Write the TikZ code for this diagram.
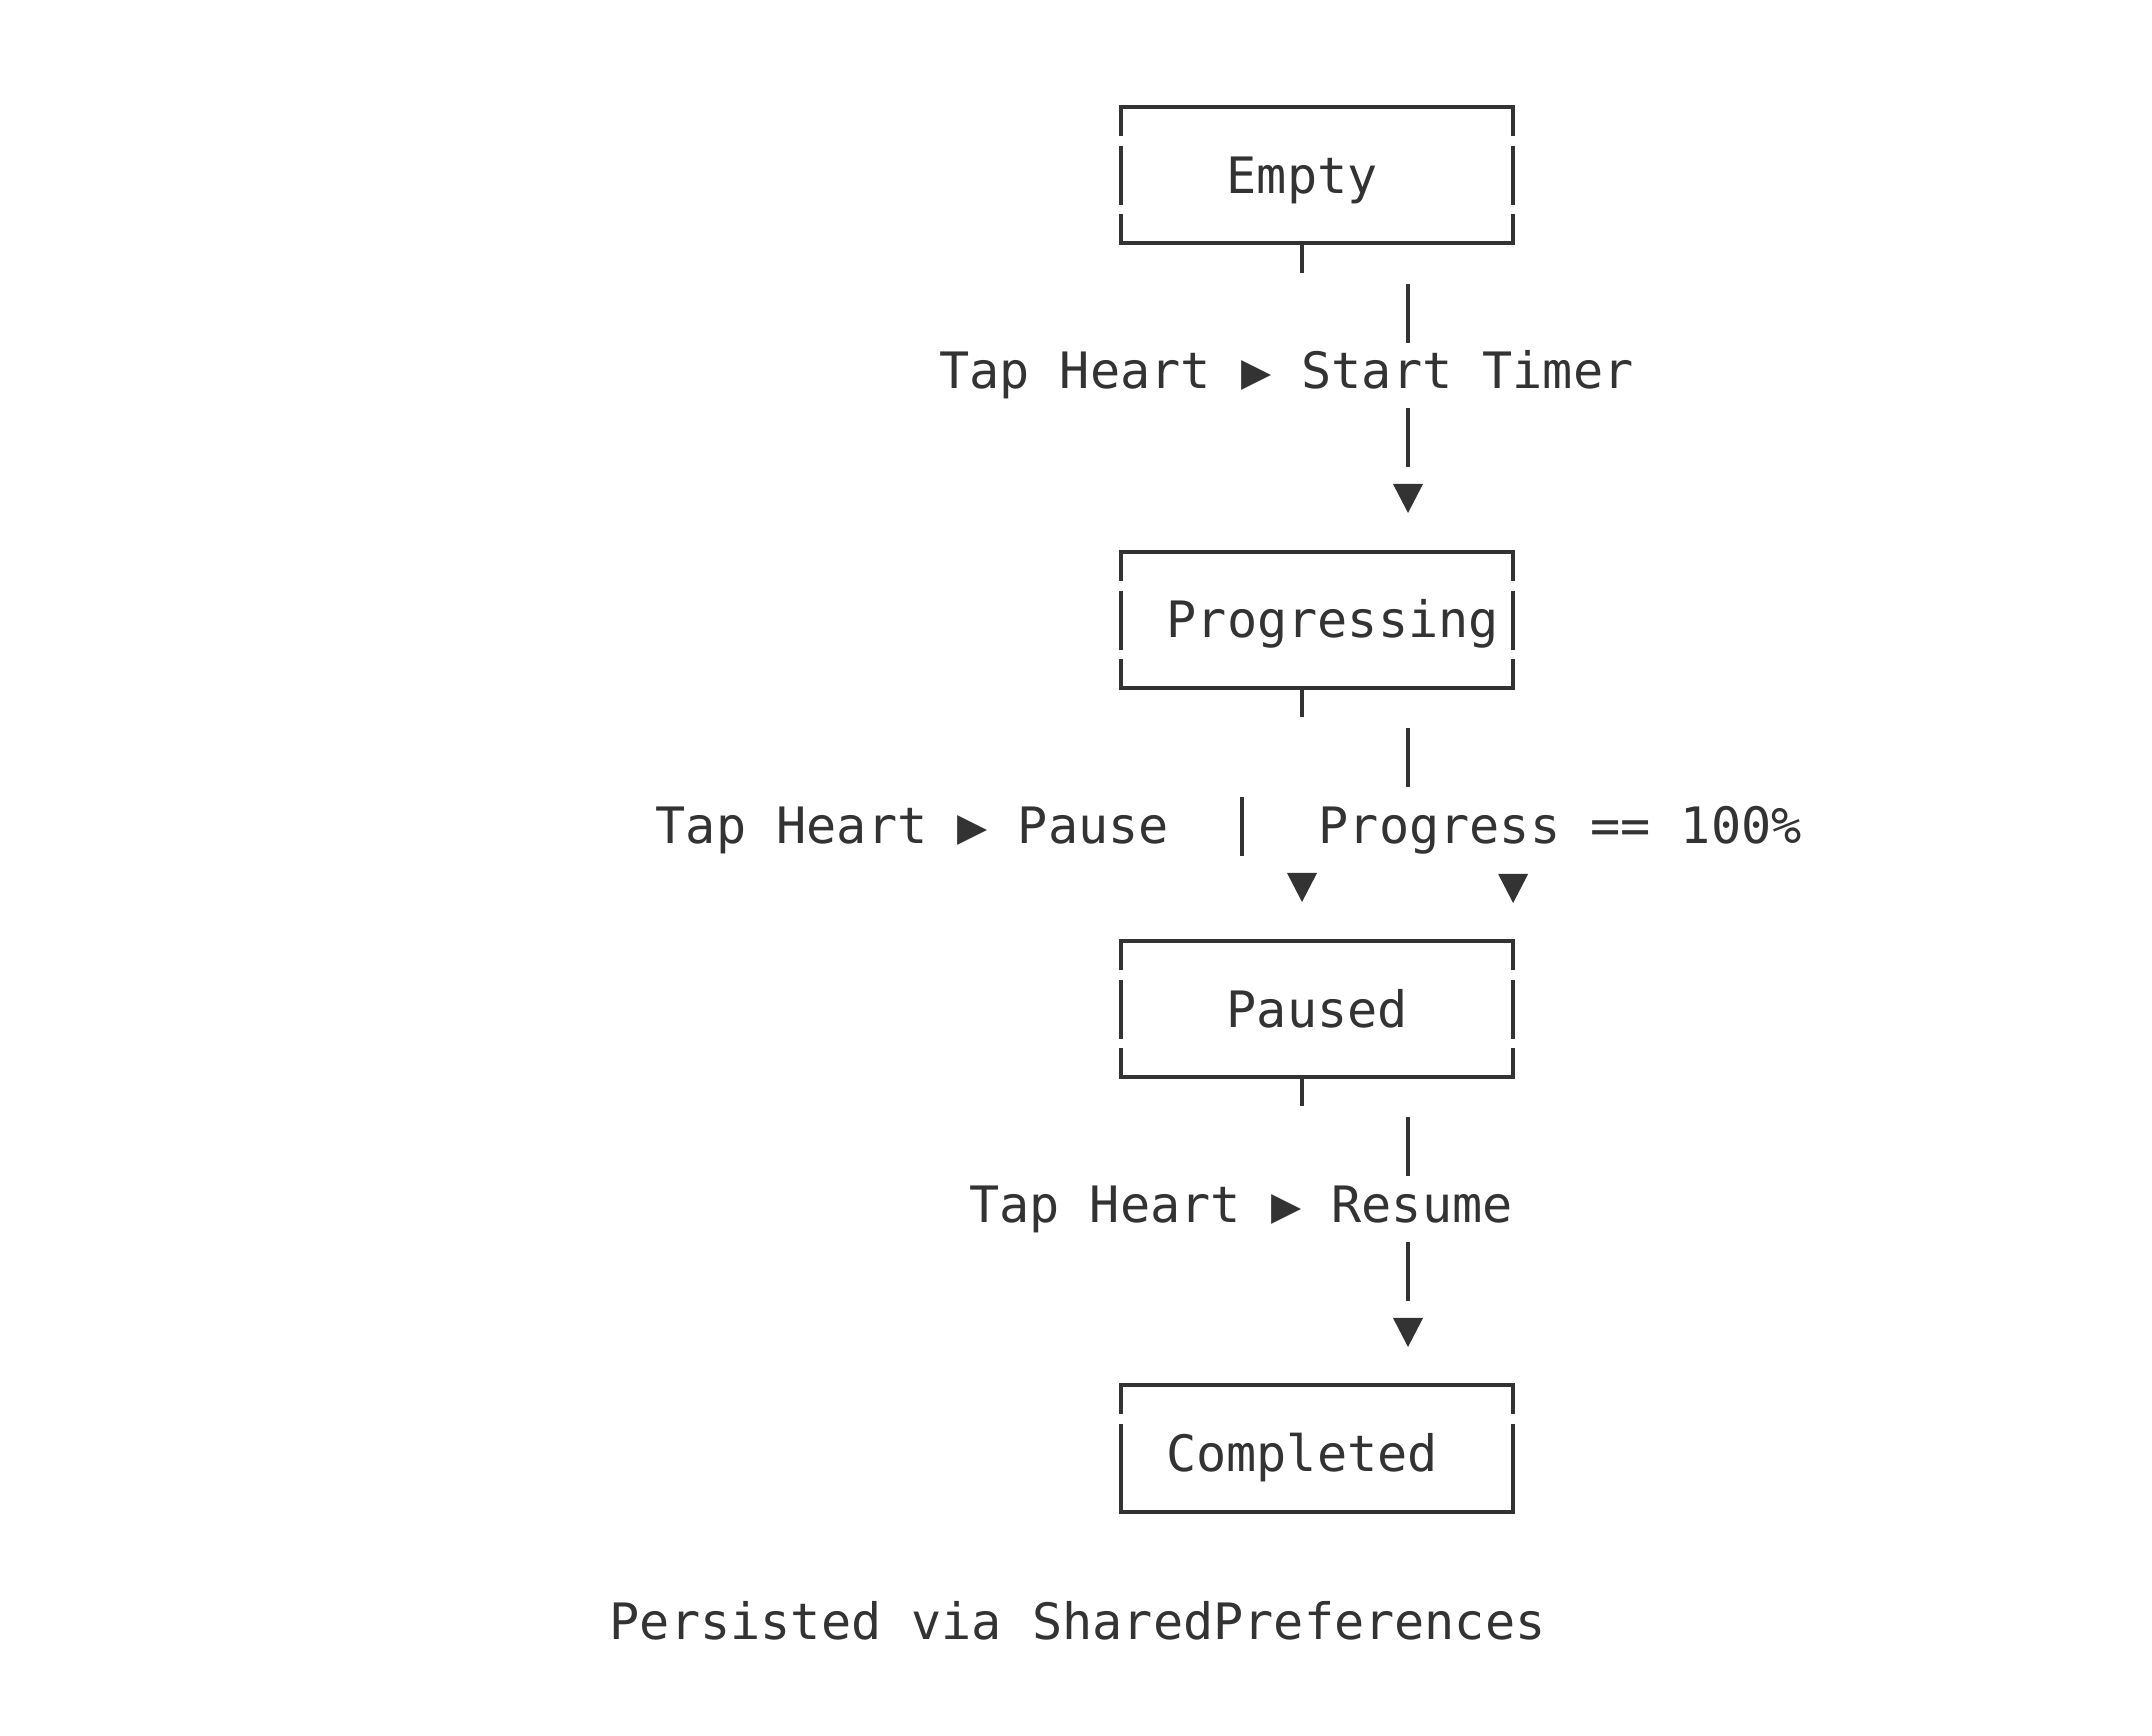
\documentclass[tikz,border=0pt]{standalone}
\usepackage{fontspec}
\newfontfamily\asciifont{DejaVu Sans Mono}
\definecolor{ink}{HTML}{333333}

\begin{document}
\begin{tikzpicture}[x=.01cm, y=-.01cm,
    edge/.style={draw=ink, line width=1pt},
    txt/.style={inner sep=0pt, anchor=base west, text=ink,
                font=\asciifont\fontsize{14.26pt}{17pt}\selectfont},
    state/.style={inner sep=0pt, outer sep=0pt,
                  minimum width=3.92cm, minimum height=1.36cm}]
  \path[fill=white,use as bounding box] (0,0) rectangle (2152,1735);

  % columns of the connector pieces
  \coordinate (tick)  at (1302,0);
  \coordinate (mid)   at (1408,0);
  \coordinate (split) at (1242,0);

  % states
  \node[state] (empty)       at (1317,175)  {};
  \node[state] (progressing) at (1317,620)  {};
  \node[state] (paused)      at (1317,1009) {};
  \node[state, minimum height=1.27cm] (completed) at (1317,1448.5) {};

  \node[txt] (emptyTxt)       at (1226,193)    {Empty};
  \node[txt] (progressingTxt) at (1166,637)    {Progressing};
  \node[txt] (pausedTxt)      at (1226,1027)   {Paused};
  \node[txt] (completedTxt)   at (1165.5,1471) {Completed};

  % box outlines, sides broken at the text rows
  \foreach \s in {empty, progressing, paused}{
    \draw[edge] (\s.north west) ++(0,29) -- ++(0,-29) -- (\s.north east) -- ++(0,29);
    \draw[edge] (\s.north west) ++(0,39) -- ++(0,59);
    \draw[edge] (\s.north east) ++(0,39) -- ++(0,59);
    \draw[edge] (\s.south west) ++(0,-29) -- ++(0,29) -- (\s.south east) -- ++(0,-29);
  }
  \draw[edge] (completed.north west) ++(0,29) -- ++(0,-29) -- (completed.north east) -- ++(0,29);
  \draw[edge] (completed.north west) ++(0,39) -- (completed.south west)
              -- (completed.south east) -- ++(0,-88);

  % empty -> progressing
  \draw[edge] (empty.south -| tick) -- ++(0,30);
  \draw[edge] (empty.south -| mid) ++(0,41) -- ++(0,59);
  \node[txt] (startLbl) at (938.5,388) {Tap Heart ▶ Start Timer};
  \draw[edge] (progressing.north -| mid) ++(0,-144) -- ++(0,59);
  \fill[ink] (progressing.north -| mid) ++(0,-39) -- ++(-15,-29) -- ++(30,0) -- cycle;

  % progressing -> paused / completed
  \draw[edge] (progressing.south -| tick) -- ++(0,29);
  \draw[edge] (progressing.south -| mid) ++(0,40) -- ++(0,59);
  \node[txt] (pauseLbl) at (655,843)  {Tap Heart ▶ Pause};
  \draw[edge] (progressing.south -| split) ++(0,109) -- ++(0,59);
  \node[txt] (doneLbl)  at (1318,843) {Progress == 100\%};
  \fill[ink] (paused.north -| tick) ++(0,-39) -- ++(-15,-29) -- ++(30,0) -- cycle;
  \fill[ink] (paused.north east) ++(0,-38) -- ++(-15,-29) -- ++(30,0) -- cycle;

  % paused -> completed
  \draw[edge] (paused.south -| tick) -- ++(0,29);
  \draw[edge] (paused.south -| mid) ++(0,40) -- ++(0,59);
  \node[txt] (resumeLbl) at (968.5,1222) {Tap Heart ▶ Resume};
  \draw[edge] (completed.north -| mid) ++(0,-143) -- ++(0,59);
  \fill[ink] (completed.north -| mid) ++(0,-38) -- ++(-15,-29) -- ++(30,0) -- cycle;

  % footnote
  \node[txt] (note) at (609,1639) {Persisted via SharedPreferences};
\end{tikzpicture}
\end{document}
